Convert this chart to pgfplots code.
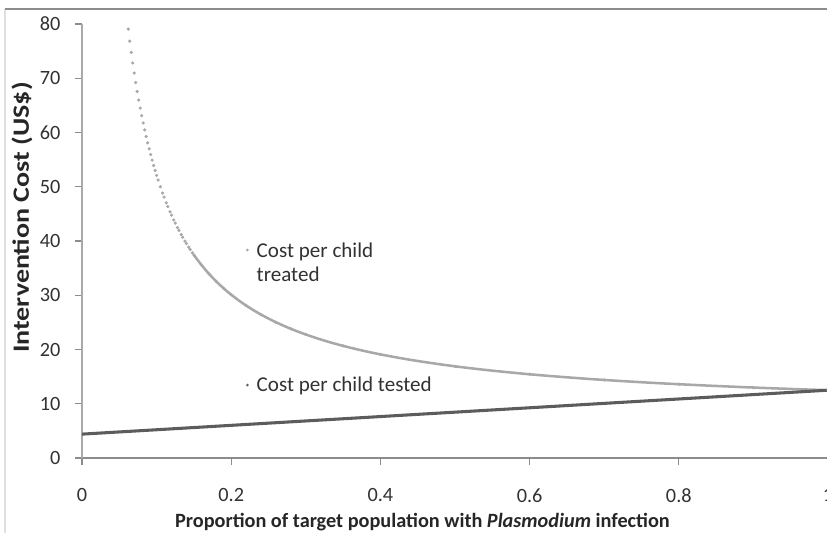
\documentclass[border=0pt]{standalone}
\usepackage{fontspec}
\setmainfont{Carlito}
\usepackage{graphicx}
\usepackage{pgfplots}
\pgfplotsset{compat=1.18}
\definecolor{treatgray}{RGB}{168,168,168}
\definecolor{testgray}{RGB}{92,92,92}
\definecolor{axgray}{RGB}{140,140,140}
\definecolor{txt}{RGB}{50,50,50}
\begin{document}
\begin{tikzpicture}[font=\fontsize{15.2}{18}\selectfont]
\begin{axis}[
  at={(0,0)}, anchor=south west,
  scale only axis, width=559.5pt, height=325.5pt,
  xmin=0, xmax=1, ymin=0, ymax=80,
  axis lines*=left,
  x axis line style={axgray, line width=0.8pt},
  y axis line style={axgray!75, line width=0.8pt},
  xtick={0,0.2,0.4,0.6,0.8,1},
  ytick={0,10,20,30,40,50,60,70,80},
  tick align=outside,
  major tick length=5pt,
  tick style={axgray, line width=0.8pt},
  /pgf/number format/assume math mode=true,
  xticklabel style={anchor=center, yshift=-23pt, text=txt, font=\fontsize{15.2}{18}\selectfont},
  yticklabel style={anchor=east, inner sep=0pt, xshift=-11pt, text=txt, font=\fontsize{15.2}{18}\selectfont},
  xlabel={\resizebox{371pt}{\height}{\fontsize{15.2}{18}\selectfont\bfseries Proportion of target population with \textit{Plasmodium} infection}},
  xlabel style={at={(axis description cs:0.4564,-0.1475)}, anchor=center, text=black!85},
  ylabel={\resizebox{203pt}{\height}{\fontsize{17.5}{20}\selectfont\bfseries Intervention Cost (US\$)}},
  ylabel style={at={(axis description cs:-0.0804,0.554)}, anchor=center, text=black!85},
  legend style={at={(axis cs:0.214,41.1)}, anchor=north west, draw=none, fill=none,
    row sep=84pt, text=txt, font=\fontsize{15.8}{18}\selectfont},
  legend cell align=left,
]
% Cost per child treated (line through the dense part)
\addplot[treatgray, line width=1.9pt, restrict x to domain=0.15:1, forget plot] table {
x y
0.150 37.43
0.155 36.49
0.160 35.60
0.165 34.77
0.170 33.98
0.175 33.24
0.180 32.54
0.185 31.88
0.190 31.26
0.195 30.66
0.200 30.10
0.21 29.05
0.22 28.10
0.23 27.23
0.24 26.43
0.25 25.70
0.26 25.02
0.27 24.40
0.28 23.81
0.29 23.27
0.30 22.77
0.31 22.29
0.32 21.85
0.33 21.43
0.34 21.04
0.35 20.67
0.36 20.32
0.37 19.99
0.38 19.68
0.39 19.38
0.40 19.10
0.42 18.58
0.44 18.10
0.46 17.67
0.48 17.27
0.50 16.90
0.52 16.56
0.54 16.25
0.56 15.96
0.58 15.69
0.60 15.43
0.62 15.20
0.64 14.98
0.66 14.77
0.68 14.57
0.70 14.39
0.72 14.21
0.74 14.05
0.76 13.89
0.78 13.74
0.80 13.60
0.82 13.47
0.84 13.34
0.86 13.22
0.88 13.10
0.90 12.99
0.92 12.88
0.94 12.78
0.96 12.68
0.98 12.59
1.00 12.50
};
\addplot[only marks, mark=*, mark size=1pt, treatgray, mark options={draw=treatgray, fill=treatgray},
  legend image code/.code={\fill[treatgray, draw=none] (0.15cm,0cm) circle (1.1pt); \path[draw=none, fill=none] (0.15cm,0cm) -- ++(5pt,0pt);}] table {
x y
0.062 79.07
0.064 76.85
0.066 74.77
0.068 72.81
0.070 70.96
0.072 69.21
0.074 67.56
0.076 65.99
0.078 64.51
0.080 63.10
0.082 61.76
0.084 60.48
0.086 59.26
0.088 58.10
0.090 56.99
0.092 55.93
0.094 54.91
0.096 53.93
0.098 53.00
0.100 52.10
0.102 51.24
0.105 50.00
0.108 48.84
0.110 48.10
0.113 47.04
0.115 46.36
0.118 45.39
0.120 44.77
0.123 43.87
0.125 43.30
0.128 42.48
0.130 41.95
0.133 41.18
0.135 40.69
0.138 39.98
0.140 39.53
0.143 38.87
0.145 38.44
0.148 37.83
0.150 37.43
0.160 35.60
0.170 33.98
0.180 32.54
0.190 31.26
0.200 30.10
0.22 28.10
0.24 26.43
0.26 25.02
0.28 23.81
0.30 22.77
0.35 20.67
0.40 19.10
0.50 16.90
0.60 15.43
0.70 14.39
0.80 13.60
0.90 12.99
1.00 12.50
};
\addlegendentry{\begin{tabular}[t]{@{}l@{}}Cost per child\\treated\end{tabular}}
% Cost per child tested
\addplot[testgray, line width=2.3pt,
  legend image code/.code={\fill[testgray, draw=none] (0.15cm,0cm) circle (1.1pt); \path[draw=none, fill=none] (0.15cm,0cm) -- ++(5pt,0pt);}] table {
x y
0.0 4.40
0.1 5.21
0.2 6.02
0.3 6.83
0.4 7.64
0.5 8.45
0.6 9.26
0.7 10.07
0.8 10.88
0.9 11.69
1.0 12.50
};
\addlegendentry{Cost per child tested}
\end{axis}
\draw[black!12, line width=0.8pt] (-57.75pt,-60pt) -- (-57.75pt,336.75pt);
\draw[axgray, line width=0.8pt] (-57.75pt,336.75pt) -- (620pt,336.75pt);
\pgfresetboundingbox
\path[use as bounding box] (-61.5pt,-55.5pt) rectangle (558.75pt,343.5pt);
\end{tikzpicture}
\end{document}
